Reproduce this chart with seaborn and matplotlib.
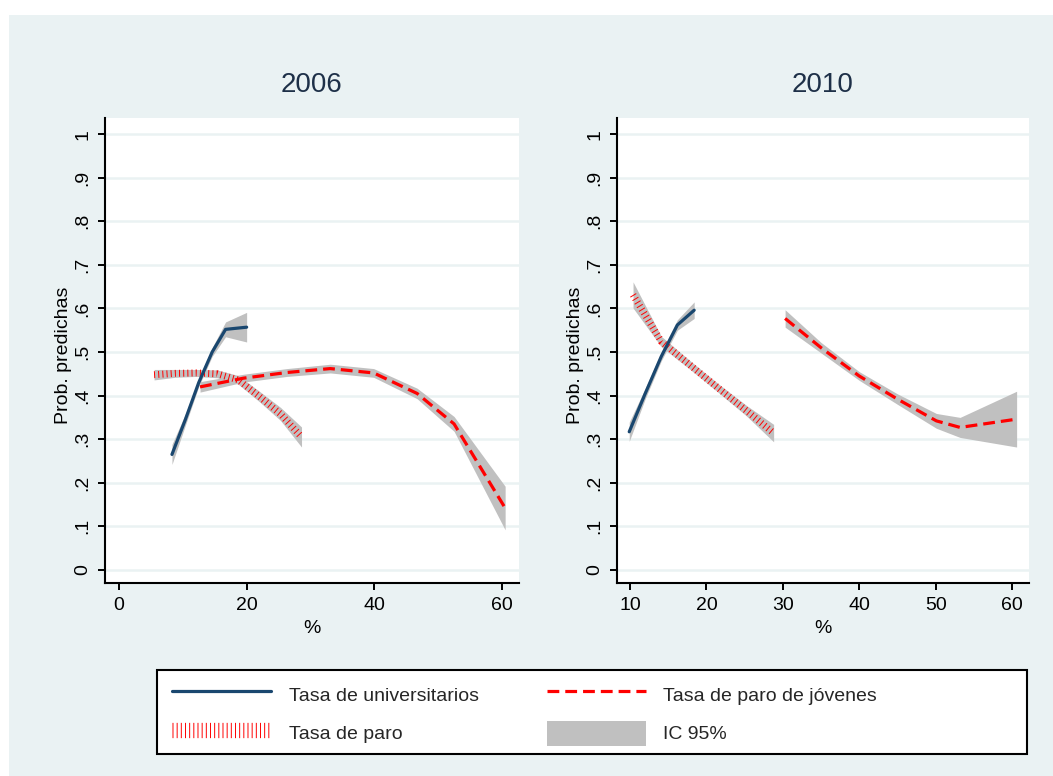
import matplotlib
matplotlib.use("Agg")
import matplotlib.pyplot as plt
import numpy as np
import pandas as pd
import seaborn as sns
from matplotlib.lines import Line2D
from matplotlib.patches import Patch, Rectangle

# ---- predicted probabilities with 95% CI half-widths ----
# 2006
x06_univ = [8.3, 10.4, 12.5, 14.6, 16.7, 20.0]
y06_univ = [0.265, 0.345, 0.43, 0.50, 0.552, 0.557]
h06_univ = [0.023, 0.013, 0.009, 0.010, 0.017, 0.034]

x06_paro = [5.5, 8.8, 12.1, 15.4, 18.7, 22.0, 25.3, 28.6]
y06_paro = [0.448, 0.451, 0.452, 0.450, 0.436, 0.398, 0.358, 0.305]
h06_paro = [0.012, 0.009, 0.008, 0.009, 0.010, 0.012, 0.015, 0.023]

x06_jov = [12.7, 19.5, 26.3, 33.1, 39.9, 46.7, 52.5, 60.5]
y06_jov = [0.42, 0.44, 0.453, 0.462, 0.452, 0.405, 0.335, 0.142]
h06_jov = [0.012, 0.009, 0.009, 0.010, 0.010, 0.012, 0.017, 0.050]

# 2010
x10_univ = [9.9, 12.0, 14.1, 16.2, 18.4]
y10_univ = [0.317, 0.405, 0.49, 0.562, 0.596]
h10_univ = [0.022, 0.012, 0.010, 0.012, 0.019]

x10_paro = [10.4, 14.1, 17.8, 21.5, 25.2, 28.8]
y10_paro = [0.631, 0.524, 0.471, 0.418, 0.366, 0.314]
h10_paro = [0.030, 0.012, 0.010, 0.010, 0.012, 0.020]

x10_jov = [30.3, 35.0, 40.0, 45.0, 50.1, 53.2, 60.6]
y10_jov = [0.577, 0.51, 0.445, 0.392, 0.342, 0.327, 0.346]
h10_jov = [0.020, 0.012, 0.010, 0.012, 0.017, 0.023, 0.064]

years = ["2006", "2010"]
series_labels = ["Tasa de universitarios", "Tasa de paro",
                 "Tasa de paro de jóvenes", "IC 95%"]
y_ticks = [0, .1, .2, .3, .4, .5, .6, .7, .8, .9, 1]
y_ticklabels = ["0", ".1", ".2", ".3", ".4", ".5", ".6", ".7", ".8", ".9", "1"]
x_ticks_2006 = [0, 20, 40, 60]
x_ticks_2010 = [10, 20, 30, 40, 50, 60]

# ---- style ----
sns.set_style("white")
plt.rcParams["font.family"] = ["Liberation Sans", "DejaVu Sans"]
plt.rcParams["lines.scale_dashes"] = False

NAVY = "#1a476f"
RED = "#ff0000"
BAND = "#c0c0c0"
BG = "#eaf2f3"
HATCH = (0, (0.7, 2.3))
DASH = (0, (8.5, 4.3))

W, H = 1053, 776
fig = plt.figure(figsize=(W / 100, H / 100), dpi=100)
fig.patch.set_facecolor("white")
fig.add_artist(Rectangle((9 / W, 0), (W - 9) / W, (H - 15) / H,
                         transform=fig.transFigure, facecolor=BG,
                         edgecolor="none", zorder=-5))

ax1 = fig.add_axes([105 / W, 1 - 583 / H, 414 / W, 465 / H])
ax2 = fig.add_axes([617 / W, 1 - 583 / H, 412 / W, 465 / H])

panels = [
    (ax1, "2006", (x06_univ, y06_univ, h06_univ), (x06_paro, y06_paro, h06_paro),
     (x06_jov, y06_jov, h06_jov), x_ticks_2006, (-2.19, 62.67)),
    (ax2, "2010", (x10_univ, y10_univ, h10_univ), (x10_paro, y10_paro, h10_paro),
     (x10_jov, y10_jov, h10_jov), x_ticks_2010, (8.30, 62.22)),
]

for ax, year, univ, paro, jov, xt, xlim in panels:
    ax.set_facecolor("white")
    for yv in y_ticks:
        ax.axhline(yv, color=BG, lw=1.8, zorder=0.5)

    # confidence bands
    for xs, ys, hs in (univ, paro, jov):
        xs, ys, hs = map(np.asarray, (xs, ys, hs))
        ax.fill_between(xs, ys - hs, ys + hs, color=BAND, lw=0, zorder=1)

    # predicted lines
    sns.lineplot(x=paro[0], y=paro[1], ax=ax, color=RED, linewidth=5.0,
                 linestyle=HATCH, dash_capstyle="butt", zorder=2)
    sns.lineplot(x=jov[0], y=jov[1], ax=ax, color=RED, linewidth=2.3,
                 linestyle=DASH, zorder=3)
    sns.lineplot(x=univ[0], y=univ[1], ax=ax, color=NAVY, linewidth=2.3,
                 zorder=4)

    ax.set_xlim(*xlim)
    ax.set_ylim(-0.030, 1.037)
    ax.set_xticks(xt)
    ax.set_xticklabels([str(v) for v in xt])
    ax.set_yticks(y_ticks)
    ax.set_yticklabels(y_ticklabels)
    ax.tick_params(axis="both", direction="out", length=5, width=1.4,
                   color="black", labelsize=14, labelcolor="black", pad=5,
                   left=True, bottom=True)
    ax.tick_params(axis="y", labelrotation=90)
    for lab in ax.get_yticklabels():
        lab.set_verticalalignment("center")
    for side in ("top", "right"):
        ax.spines[side].set_visible(False)
    for side in ("left", "bottom"):
        ax.spines[side].set_color("black")
        ax.spines[side].set_linewidth(1.5)
    ax.grid(False)

    ax.set_ylabel("Prob. predichas", fontsize=14, color="black")
    ax.yaxis.set_label_coords(-0.08, 0.49)
    ax.set_xlabel("%", fontsize=14, color="black")
    ax.xaxis.set_label_coords(0.5, -0.08)
    ax.text(0.5, 1.071, year, transform=ax.transAxes, ha="center",
            va="center", fontsize=20, color="#1e3048")

# ---- legend ----
fig.add_artist(Rectangle((157 / W, 1 - 754 / H), 870 / W, 84 / H,
                         transform=fig.transFigure, facecolor="white",
                         edgecolor="black", lw=1.5, zorder=1))
handles = [
    Line2D([], [], color=NAVY, lw=2.3),
    Line2D([], [], color=RED, lw=11, linestyle=HATCH, dash_capstyle="butt"),
    Line2D([], [], color=RED, lw=2.3, linestyle=DASH),
    Patch(facecolor=BAND, edgecolor="none"),
]
leg = fig.legend(handles, series_labels, ncol=2, loc="upper left",
                 bbox_to_anchor=(172 / W, 1 - 682 / H), frameon=False,
                 borderpad=0, borderaxespad=0, handlelength=5.1,
                 handleheight=1.6, handletextpad=0.9, columnspacing=3.5,
                 labelspacing=0.7, fontsize=14)
leg.set_zorder(3)

fig.savefig("out.png", dpi=100)
